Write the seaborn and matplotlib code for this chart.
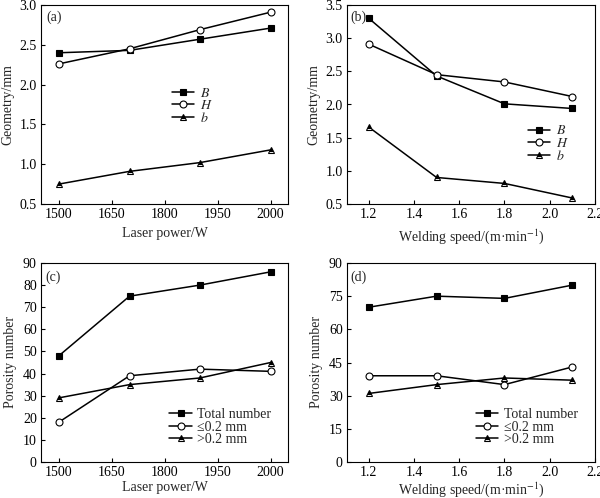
import matplotlib
matplotlib.use("Agg")
import matplotlib.pyplot as plt
import seaborn as sns
import pandas as pd

sns.set_theme(style="ticks")
plt.rcParams['font.family'] = ['Liberation Serif', 'DejaVu Serif']
plt.rcParams['mathtext.fontset'] = 'stix'
plt.rcParams['xtick.direction'] = 'in'
plt.rcParams['ytick.direction'] = 'in'

# Data
laser_power = [1500, 1667, 1833, 2000]
power_ticks = [1500, 1625, 1750, 1875, 2000]
power_ticklabels = ["1500", "1650", "1800", "1950", "2000"]
speed = [1.2, 1.5, 1.8, 2.1]

a_B = [2.40, 2.43, 2.57, 2.71]
a_H = [2.26, 2.45, 2.69, 2.91]
a_b = [0.75, 0.91, 1.02, 1.18]

b_B = [3.30, 2.43, 2.01, 1.94]
b_H = [2.91, 2.45, 2.34, 2.12]
b_b = [1.66, 0.90, 0.81, 0.59]

c_total = [48, 75, 80, 86]
c_small = [18, 39, 42, 41]
c_large = [29, 35, 38, 45]

d_total = [70, 75, 74, 80]
d_small = [39, 39, 35, 43]
d_large = [31, 35, 38, 37]

geom_labels = ["$B$", "$H$", "$b$"]
por_labels = ["Total number", "≤0.2 mm", ">0.2 mm"]

W, H = 600, 498
fig = plt.figure(figsize=(6.0, 4.98), dpi=100)

def px_axes(l, t, r, b):
    return fig.add_axes([l / W, 1 - b / H, (r - l) / W, (b - t) / H])

styles = [
    dict(marker='s', markerfacecolor='black', markeredgecolor='black'),
    dict(marker='o', markerfacecolor='white', markeredgecolor='black'),
    dict(marker='^', markerfacecolor='black', markeredgecolor='black',
         fillstyle='top', markerfacecoloralt='white'),
]

def draw(ax, x, series, labels, legend_anchor):
    for ys, lab, st in zip(series, labels, styles):
        df = pd.DataFrame({'x': x, 'y': ys})
        sns.lineplot(data=df, x='x', y='y', ax=ax, color='black', lw=1.1,
                     markersize=5, markeredgewidth=0.8, label=lab, **st)
    ax.legend(loc='upper left', bbox_to_anchor=legend_anchor, frameon=False,
              fontsize=10, handlelength=1.6, handletextpad=0.4,
              labelspacing=-0.05, borderaxespad=0, borderpad=0)
    ax.set_xlabel('')
    ax.set_ylabel('')
    ax.tick_params(labelsize=10, length=3, width=0.8, colors='black', pad=3)
    for s in ax.spines.values():
        s.set_linewidth(0.8)
        s.set_color('black')
        s.set_visible(True)

# (a)
ax1 = px_axes(41, 5, 288, 204)
draw(ax1, laser_power, [a_B, a_H, a_b], geom_labels, (0.53, 0.59))
ax1.set_xlim(1458, 2041)
ax1.set_ylim(0.5, 3.0)
ax1.set_xticks(power_ticks)
ax1.set_xticklabels(power_ticklabels)
ax1.set_yticks([0.5, 1.0, 1.5, 2.0, 2.5, 3.0])
ax1.set_xlabel('Laser power/W', fontsize=10)
ax1.set_ylabel('Geometry/mm', fontsize=10)
ax1.text(0.02, 0.97, '(a)', transform=ax1.transAxes, va='top', fontsize=10)

# (b)
ax2 = px_axes(347, 5, 595, 204)
draw(ax2, speed, [b_B, b_H, b_b], geom_labels, (0.73, 0.40))
ax2.set_xlim(1.104, 2.2)
ax2.set_ylim(0.5, 3.5)
ax2.set_xticks([1.2, 1.4, 1.6, 1.8, 2.0, 2.2])
ax2.set_yticks([0.5, 1.0, 1.5, 2.0, 2.5, 3.0, 3.5])
ax2.set_xlabel('Welding speed/(m·min$^{-1}$)', fontsize=10)
ax2.set_ylabel('Geometry/mm', fontsize=10)
ax2.text(0.012, 0.97, '(b)', transform=ax2.transAxes, va='top', fontsize=10)

# (c)
ax3 = px_axes(41, 263, 288, 462)
draw(ax3, laser_power, [c_total, c_small, c_large], por_labels, (0.52, 0.27))
ax3.set_xlim(1458, 2041)
ax3.set_ylim(0, 90)
ax3.set_xticks(power_ticks)
ax3.set_xticklabels(power_ticklabels)
ax3.set_yticks(range(0, 91, 10))
ax3.set_xlabel('Laser power/W', fontsize=10, labelpad=1.5)
ax3.set_ylabel('Porosity number', fontsize=10)
ax3.text(0.018, 0.96, '(c)', transform=ax3.transAxes, va='top', fontsize=10)

# (d)
ax4 = px_axes(347, 263, 595, 462)
draw(ax4, speed, [d_total, d_small, d_large], por_labels, (0.52, 0.27))
ax4.set_xlim(1.104, 2.2)
ax4.set_ylim(0, 90)
ax4.set_xticks([1.2, 1.4, 1.6, 1.8, 2.0, 2.2])
ax4.set_yticks(range(0, 91, 15))
ax4.set_xlabel('Welding speed/(m·min$^{-1}$)', fontsize=10, labelpad=1.0)
ax4.set_ylabel('Porosity number', fontsize=10)
ax4.text(0.012, 0.96, '(d)', transform=ax4.transAxes, va='top', fontsize=10)

fig.savefig('out.png', dpi=100)
